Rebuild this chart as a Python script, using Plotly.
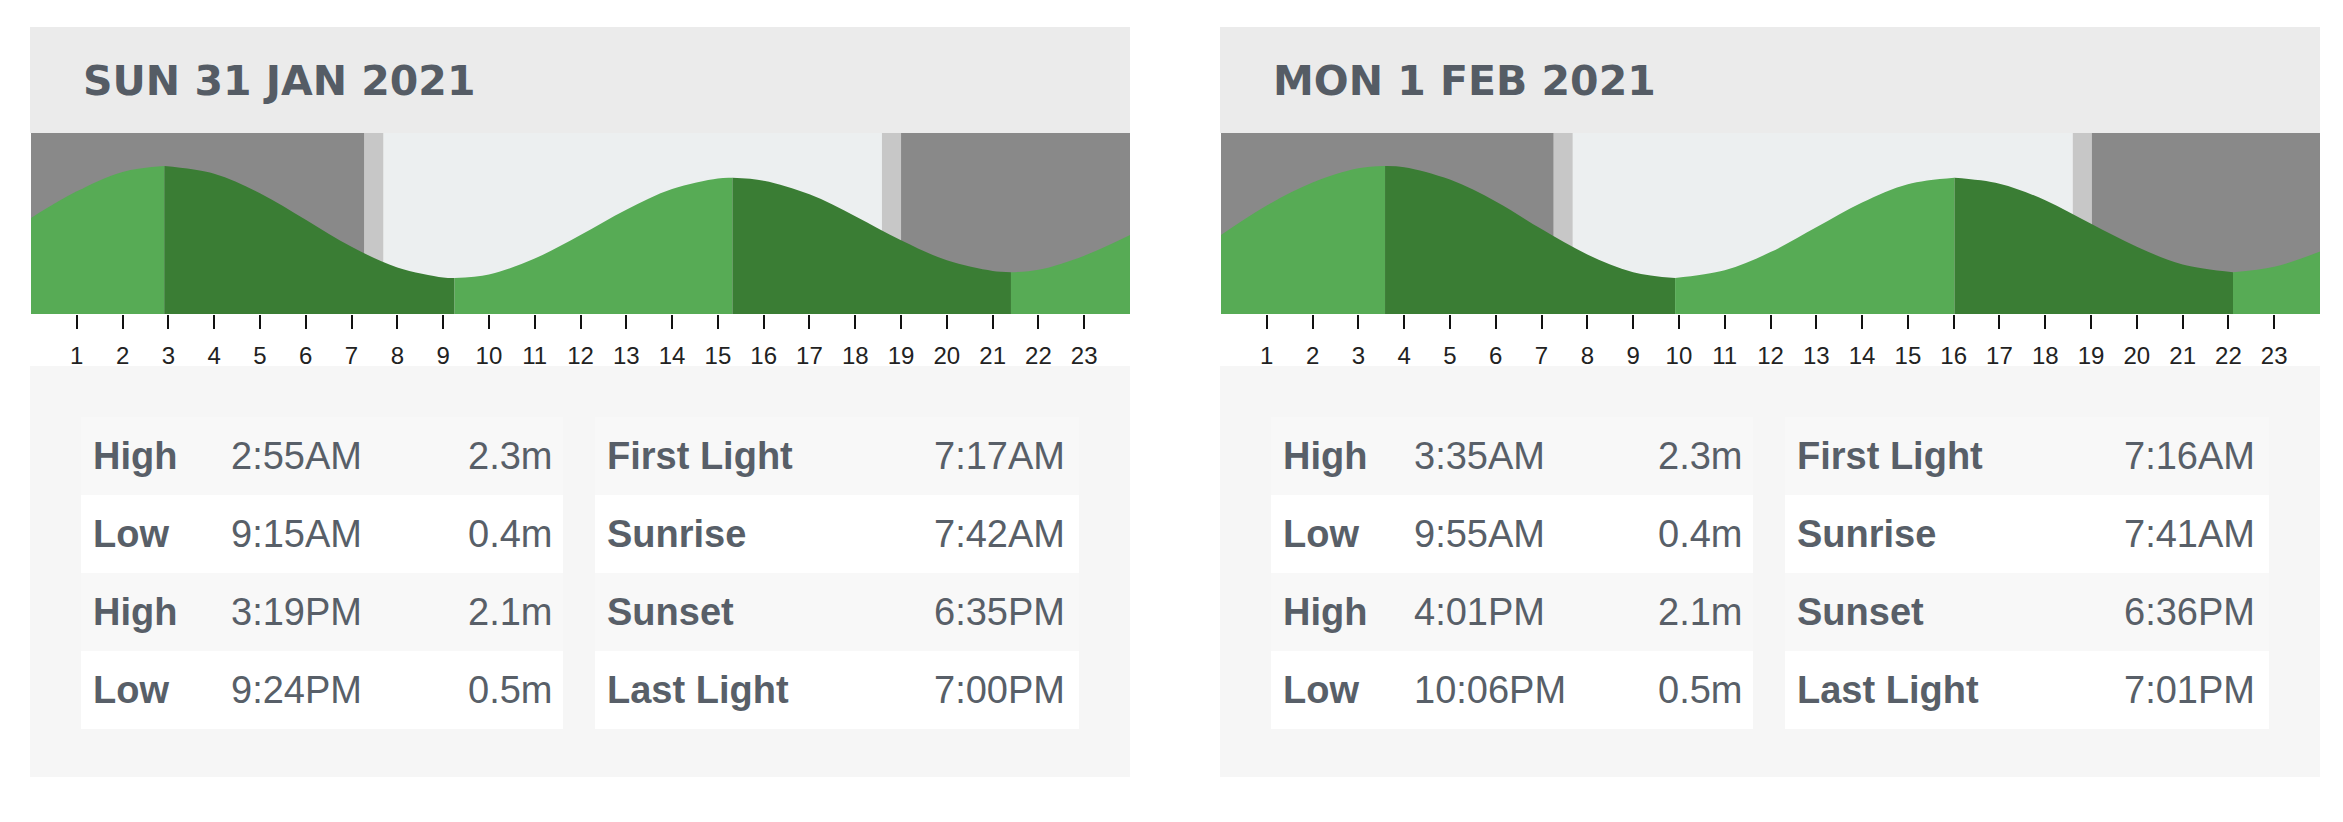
import plotly.graph_objects as go

W, H = 2343, 822

# ---- data ----
day_titles = ["SUN 31 JAN 2021", "MON 1 FEB 2021"]

tide_types = ["High", "Low", "High", "Low"]
jan31_tide_times = ["2:55AM", "9:15AM", "3:19PM", "9:24PM"]
jan31_tide_heights = [2.3, 0.4, 2.1, 0.5]
feb1_tide_times = ["3:35AM", "9:55AM", "4:01PM", "10:06PM"]
feb1_tide_heights = [2.3, 0.4, 2.1, 0.5]

sun_events = ["First Light", "Sunrise", "Sunset", "Last Light"]
jan31_sun_times = ["7:17AM", "7:42AM", "6:35PM", "7:00PM"]
feb1_sun_times = ["7:16AM", "7:41AM", "6:36PM", "7:01PM"]

jan31_hours = [0, 1, 2, 4, 5, 6, 7, 8, 9, 10, 11, 12, 13, 14, 15, 16, 17, 18, 19, 20, 21, 22, 23, 24]
jan31_levels = [1.42, 1.87, 2.20, 2.17, 1.84, 1.39, 0.93, 0.58, 0.41, 0.46, 0.73, 1.13,
                1.56, 1.91, 2.09, 2.05, 1.82, 1.45, 1.04, 0.70, 0.52, 0.54, 0.78, 1.13]
feb1_hours = [0, 1, 2, 3, 4, 5, 6, 7, 8, 9, 11, 12, 13, 14, 15, 17, 18, 19, 20, 21, 23, 24]
feb1_levels = [1.13, 1.63, 2.02, 2.26, 2.28, 2.07, 1.70, 1.23, 0.80, 0.50, 0.53,
               0.84, 1.26, 1.68, 1.99, 2.00, 1.72, 1.32, 0.93, 0.63, 0.59, 0.85]

hour_ticks = list(range(1, 24))

# ---- styling ----
NIGHT = "#898989"
TWILIGHT = "#c7c7c7"
DAY = "#eceff0"
RISING = "#57ab55"
FALLING = "#3a7d34"
HEADER_BG = "#ebebeb"
TABLE_BG = "#f6f6f6"
ROW_SHADE = "#f8f8f8"
TEXT = "#585f68"
TITLE = "#555c65"
ARIAL = "Liberation Sans, Arial, sans-serif"

PANEL_X = [30, 1220]
PANEL_W = 1100
TIME_COL = [199, 192]  # time column is a bit wider on the second day
Y_RANGE = [-0.21, 2.86]


def to_hours(t):
    hm, ampm = t[:-2], t[-2:]
    h, m = map(int, hm.split(":"))
    return h % 12 + (12 if ampm == "PM" else 0) + m / 60


def fx(px):
    return px / W


def fy(py):
    return 1 - py / H


panels = [
    dict(title=day_titles[0], tide_times=jan31_tide_times, tide_heights=jan31_tide_heights,
         sun_times=jan31_sun_times, hours=jan31_hours, levels=jan31_levels),
    dict(title=day_titles[1], tide_times=feb1_tide_times, tide_heights=feb1_tide_heights,
         sun_times=feb1_sun_times, hours=feb1_hours, levels=feb1_levels),
]

fig = go.Figure()
shapes = []
annotations = []
layout_axes = {}

for i, p in enumerate(panels):
    x0 = PANEL_X[i]
    n = "" if i == 0 else str(i + 1)
    xa, ya = "x" + n, "y" + n

    layout_axes["xaxis" + n] = dict(
        domain=[fx(x0 + 1), fx(x0 + PANEL_W)], range=[0, 24], anchor=ya,
        tickvals=hour_ticks, ticks="outside", ticklen=14, tickwidth=2, tickcolor="#111111",
        ticklabelstandoff=6,
        tickfont=dict(family=ARIAL, size=24, color="#222222"),
        showgrid=False, zeroline=False, showline=False, fixedrange=True,
    )
    layout_axes["yaxis" + n] = dict(
        domain=[fy(314), fy(133)], range=Y_RANGE, anchor=xa, visible=False, fixedrange=True,
    )

    # header, table background and striped rows
    shapes.append(dict(type="rect", xref="paper", yref="paper", layer="below",
                       x0=fx(x0), x1=fx(x0 + PANEL_W), y0=fy(27), y1=fy(133),
                       fillcolor=HEADER_BG, line_width=0))
    shapes.append(dict(type="rect", xref="paper", yref="paper", layer="below",
                       x0=fx(x0), x1=fx(x0 + PANEL_W), y0=fy(366), y1=fy(777),
                       fillcolor=TABLE_BG, line_width=0))
    for r in range(4):
        for tx0, tx1 in [(51, 533), (565, 1049)]:
            shapes.append(dict(type="rect", xref="paper", yref="paper", layer="below",
                               x0=fx(x0 + tx0), x1=fx(x0 + tx1),
                               y0=fy(417 + 78 * r), y1=fy(417 + 78 * (r + 1)),
                               fillcolor=ROW_SHADE if r % 2 == 0 else "white", line_width=0))

    # night / twilight / day bands behind the tide curve
    fl, sr, ss, ll = [to_hours(t) for t in p["sun_times"]]
    for b0, b1, col in [(0, fl, NIGHT), (fl, sr, TWILIGHT), (sr, ss, DAY),
                        (ss, ll, TWILIGHT), (ll, 24, NIGHT)]:
        shapes.append(dict(type="rect", xref=xa, yref=ya + " domain", layer="below",
                           x0=b0, x1=b1, y0=0, y1=1, fillcolor=col, line_width=0))

    # tide curve, split at each high / low: rising light green, falling dark green
    turn_hours = [to_hours(t) for t in p["tide_times"]]
    pts = sorted(zip(p["hours"] + turn_hours, p["levels"] + p["tide_heights"]))
    cuts = [0] + [k for k, (h, _) in enumerate(pts) if h in turn_hours] + [len(pts) - 1]
    for a, b in zip(cuts[:-1], cuts[1:]):
        seg = pts[a:b + 1]
        sx = [h for h, _ in seg]
        sy = [v for _, v in seg]
        fig.add_trace(go.Scatter(x=[sx[0], sx[-1]], y=[Y_RANGE[0], Y_RANGE[0]], mode="lines",
                                 line=dict(width=0), xaxis=xa, yaxis=ya,
                                 showlegend=False, hoverinfo="skip"))
        fig.add_trace(go.Scatter(x=sx, y=sy, mode="lines", fill="tonexty",
                                 fillcolor=RISING if sy[-1] > sy[0] else FALLING,
                                 line=dict(width=0, shape="spline", smoothing=1),
                                 xaxis=xa, yaxis=ya, showlegend=False, hoverinfo="skip"))

    # date heading
    annotations.append(dict(xref="paper", yref="paper", x=fx(x0 + 51), y=fy(81),
                            xanchor="left", yanchor="middle", showarrow=False,
                            text="<b>%s</b>" % p["title"],
                            font=dict(family="DejaVu Sans", size=41, color=TITLE)))

    # tide and sun tables
    for r in range(4):
        cy = fy(456 + 78 * r)
        cells = [
            (61, "left", "<b>%s</b>" % tide_types[r]),
            (TIME_COL[i], "left", p["tide_times"][r]),
            (524, "right", "%sm" % p["tide_heights"][r]),
            (575, "left", "<b>%s</b>" % sun_events[r]),
            (1037, "right", p["sun_times"][r]),
        ]
        for cx, anchor, txt in cells:
            annotations.append(dict(xref="paper", yref="paper", x=fx(x0 + cx), y=cy,
                                    xanchor=anchor, yanchor="middle", showarrow=False,
                                    text=txt, font=dict(family=ARIAL, size=38, color=TEXT)))

fig.update_layout(
    width=W, height=H,
    margin=dict(l=0, r=0, t=0, b=0),
    paper_bgcolor="white",
    plot_bgcolor="rgba(0,0,0,0)",
    shapes=shapes,
    annotations=annotations,
    **layout_axes,
)

fig.write_html("out.html", config={"displayModeBar": False},
               post_script="document.body.style.margin='0';")
